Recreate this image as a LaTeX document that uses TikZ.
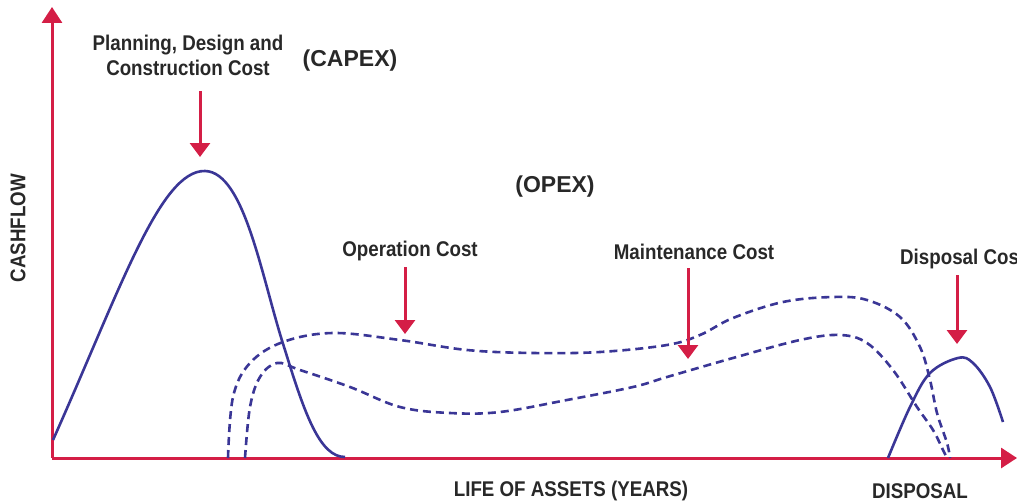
\documentclass[tikz,border=0pt]{standalone}
\usepackage{fontspec}
\setmainfont{Liberation Sans}
\newfontfamily\narrowfont[FakeStretch=0.88]{Liberation Sans}
\usetikzlibrary{arrows.meta}
\definecolor{axisred}{RGB}{212,30,70}
\definecolor{curveblue}{RGB}{58,54,150}
\definecolor{txtgray}{RGB}{40,40,40}
\tikzset{
  axis/.style={draw=axisred, line width=3pt, -{Triangle[width=20pt,length=16pt]}},
  pointer/.style={draw=axisred, line width=3pt, -{Triangle[width=20pt,length=14pt]}, shorten >=-1pt},
  solidcurve/.style={draw=curveblue, line width=2.6pt},
  dashcurve/.style={draw=curveblue, line width=2.6pt, dash pattern=on 8pt off 5pt},
  label/.style={text=txtgray, font=\narrowfont\bfseries\fontsize{21.3}{24}\selectfont, inner sep=0pt, align=center},
  big/.style={text=txtgray, font=\bfseries\fontsize{23}{26}\selectfont, inner sep=0pt},
  axlabel/.style={text=txtgray, font=\narrowfont\bfseries\fontsize{21.3}{24}\selectfont, inner sep=0pt}
}
\begin{document}
\begin{tikzpicture}[x=1pt,y=-1pt]
\useasboundingbox (0,0) rectangle (1017,503);
\clip (0,0) rectangle (1017,503);
% axes
\coordinate (O) at (52,458);
\coordinate (ytip) at (52,7);
\coordinate (xtip) at (1017,458);
\draw[axis] (O) -- (ytip);
\draw[axis] (O) -- (xtip);
% curves
\draw[solidcurve] (53,440) .. controls (120,290) and (160,170) .. (205,171)
  .. controls (245,172) and (262,280) .. (285,350)
  .. controls (305,415) and (320,457) .. (345,457);
\draw[dashcurve] plot[smooth, tension=0.6] coordinates {(228,458) (233,397) (250,363) (283,342) (333,333) (400,340) (467,350) (533,353) (600,352) (667,345) (700,335) (733,318) (783,302) (833,297) (867,300) (900,317) (920,347) (930,380) (937,413) (947,443) (950,458)};
\draw[dashcurve] plot[smooth, tension=0.6] coordinates {(245,458) (250,407) (260,377) (277,363) (300,370) (350,387) (400,407) (450,413) (500,412) (567,400) (633,387) (667,377) (733,358) (800,340) (840,335) (867,343) (893,370) (917,407) (933,430) (943,450) (947,458)};
\draw[solidcurve] plot[smooth, tension=0.6] coordinates {(888,458) (910,407) (930,373) (958,358) (973,363) (990,387) (1003,422)};
% labels
\node[label] (plan) at (188,55) {Planning, Design and\\[1pt]Construction Cost};
\node[big] (capex) at (350,61) {(CAPEX)};
\node[big] (opex) at (555,187) {(OPEX)};
\node[label] (oper) at (410,251) {Operation Cost};
\node[label] (maint) at (694,252) {Maintenance Cost};
\node[label, anchor=west] (disp) at (900,259) {Disposal Cost};
\node[axlabel] (life) at (571,491) {LIFE OF ASSETS (YEARS)};
\node[axlabel] (dispx) at (920,491) {DISPOSAL};
\node[axlabel, rotate=90] (cash) at (18,228) {CASHFLOW};
% pointer arrows
\coordinate (p1s) at (200,91);  \coordinate (p1e) at (200,156);
\coordinate (p2s) at (405,267); \coordinate (p2e) at (405,333);
\coordinate (p3s) at (688,268); \coordinate (p3e) at (688,358);
\coordinate (p4s) at (957,275); \coordinate (p4e) at (957,343);
\draw[pointer] (p1s) -- (p1e);
\draw[pointer] (p2s) -- (p2e);
\draw[pointer] (p3s) -- (p3e);
\draw[pointer] (p4s) -- (p4e);
\end{tikzpicture}
\end{document}
